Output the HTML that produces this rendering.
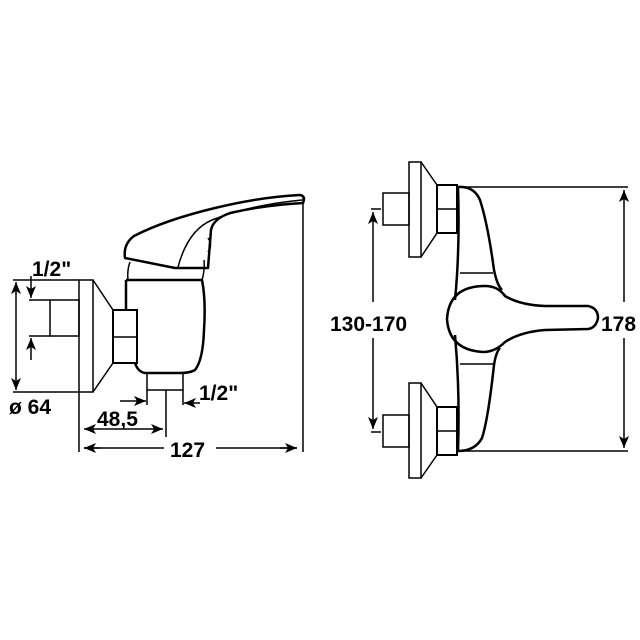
<!DOCTYPE html>
<html><head><meta charset="utf-8"><style>
html,body{margin:0;padding:0;background:#fff;}
svg{display:block}
text{font-family:"Liberation Sans",Arial,sans-serif;font-weight:bold;font-size:21px;fill:#000}
</style></head><body>
<svg width="640" height="640" viewBox="0 0 640 640" xmlns="http://www.w3.org/2000/svg">
<defs>
<marker id="a" viewBox="0 0 12 10" refX="12" refY="5" markerWidth="13" markerHeight="10" orient="auto-start-reverse" markerUnits="userSpaceOnUse"><path d="M0,0 L12,5 L0,10 L3,5 Z" fill="#000"/></marker>
</defs>
<g fill="none" stroke="#000" stroke-width="1.5">
<!-- LEFT VIEW -->
<rect x="79" y="280" width="14" height="112"/>
<path d="M93,280 L113,310 M93,392 L113,363"/>
<rect x="50" y="300" width="29" height="36"/>
<path d="M29,300 H50 M29,336 H50"/>
<rect x="113" y="310" width="24" height="53" stroke-width="2"/>
<path d="M113,337 H137"/>
<path d="M126,280 H202 Q206,300 204,330 Q203,360 195,370 Q190,373 180,373 H145 Q138,372 135,363" stroke-width="2.5"/>
<path d="M126,280 V310" stroke-width="2.5"/>
<path d="M130,262 Q127,270 128,280 M204,260 Q205,270 202,280"/>
<path d="M125,258 Q123,244 134,236 Q165,220 215,208 Q260,197 300,195 Q306,196 303,203 Q265,205 230,213 Q213,219 211,230 L208,268 L175,268 Z" stroke-width="2.5" stroke-linejoin="round"/>
<path d="M178,267 Q188,230 212,220 Q250,205 302,200"/>
<path d="M208,238 Q213,245 208,252"/>
<rect x="147" y="373" width="36" height="17"/>
<path d="M147,390 V405 M183,390 V405 M166,390 V437"/>
<path d="M303,197 V452 M79,392 V452"/>
<path d="M13,280 H79 M13,392 H79"/>
<path d="M16,282 V390" marker-start="url(#a)" marker-end="url(#a)"/>
<path d="M31,276 V298" marker-end="url(#a)"/>
<path d="M31,360 V338" marker-end="url(#a)"/>
<path d="M120,401 H146" marker-end="url(#a)"/>
<path d="M200,403 H184" marker-end="url(#a)"/>
<path d="M84,429 H163" marker-start="url(#a)" marker-end="url(#a)"/>
<path d="M84,448 H164 M216,448 H297" />
<path d="M84,448 H100" marker-start="url(#a)"/>
<path d="M280,448 H297" marker-end="url(#a)"/>

<!-- RIGHT VIEW -->
<rect x="409" y="162" width="12" height="95"/>
<path d="M421,162 L437,185 M421,257 L437,233"/>
<rect x="383" y="193" width="26" height="32"/>
<rect x="437" y="185" width="20" height="48" stroke-width="2"/>
<path d="M437,209 H457"/>
<rect x="409" y="383" width="12" height="95"/>
<path d="M421,383 L437,407 M421,478 L437,455"/>
<rect x="383" y="415" width="26" height="32"/>
<rect x="437" y="407" width="20" height="48" stroke-width="2"/>
<path d="M437,431 H457"/>
<!-- body -->
<path d="M458,187 Q474,186 480,200 Q488,225 494,270 Q497,285 502,290 M500,348 Q496,352 494,365 Q488,420 482,438 Q475,451 458,451" stroke-width="2.5"/>
<path d="M458,187 Q460,250 455,300 M455,335 Q460,390 458,451" stroke-width="2.5"/>
<path d="M460,273 H493 M460,364 H495"/>
<!-- handle -->
<path d="M485,286 Q498,286 505,296 Q520,305 545,306 L588,306 Q598,308 598,318 Q596,328 588,329 L545,330 Q520,332 505,342 Q495,352 483,352 Q449,350 447,319 Q449,286 485,286 Z" stroke-width="2.5" stroke-linejoin="round"/>
<path d="M460,187 H628 M460,451 H628"/>
<path d="M624,190 V302" marker-start="url(#a)"/>
<path d="M624,338 V448" marker-end="url(#a)"/>
<path d="M371,209 H381 M371,432 H381"/>
<path d="M373,212 V302" marker-start="url(#a)"/>
<path d="M373,338 V429" marker-end="url(#a)"/>
</g>
<text x="32" y="276">1/2"</text>
<text x="199" y="400">1/2"</text>
<text x="9" y="414">ø 64</text>
<text x="97" y="426">48,5</text>
<text x="170" y="457">127</text>
<text x="330" y="331">130-170</text>
<text x="601" y="331">178</text>
</svg>
</body></html>
